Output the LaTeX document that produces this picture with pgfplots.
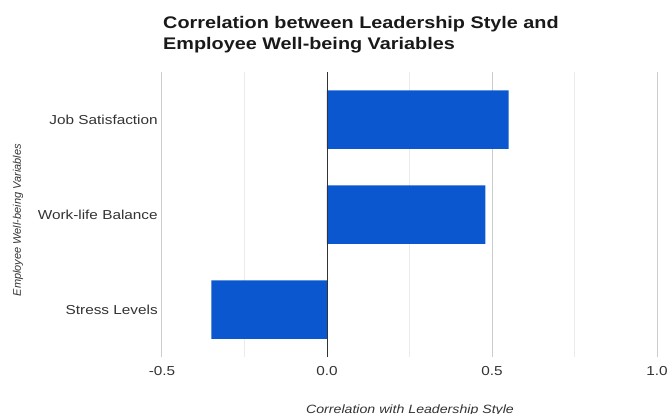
\documentclass[border=0pt]{standalone}
\usepackage{fontspec}
\setmainfont{Liberation Sans}[FakeStretch=1.18]
\newfontfamily\plainsans{Liberation Sans}
\usepackage{pgfplots}
\pgfplotsset{compat=1.18}

\definecolor{barblue}{HTML}{0B57D0}
\definecolor{ticktext}{HTML}{333333}
\definecolor{majorgrid}{HTML}{CCCCCC}
\definecolor{minorgrid}{HTML}{EBEBEB}
\definecolor{zeroline}{HTML}{333333}

\begin{document}
\begin{tikzpicture}
\useasboundingbox (-162bp,-57bp) rectangle (505bp,357bp);
\begin{axis}[
  at={(0,0)}, anchor=south west,
  scale only axis, width=495bp, height=285bp,
  xbar, bar width=58.5bp,
  xmin=-0.5, xmax=1.0, ymin=-0.5, ymax=2.5,
  xtick={-0.5,0,0.5,1.0},
  minor xtick={-0.25,0.25,0.75},
  xmajorgrids, xminorgrids,
  major grid style={draw=majorgrid, line width=1pt},
  minor grid style={draw=minorgrid, line width=1pt},
  ytick={0,1,2},
  yticklabels={Stress Levels, Work-life Balance, Job Satisfaction},
  axis line style={draw=none},
  tick style={draw=none},
  /pgf/number format/fixed,
  /pgf/number format/fixed zerofill,
  /pgf/number format/precision=1,
  /pgf/number format/assume math mode=true,
  xticklabel style={font=\fontsize{13bp}{15bp}\selectfont, text=ticktext, yshift=-6bp},
  yticklabel style={font=\fontsize{13bp}{15bp}\selectfont, text=ticktext, xshift=3.5bp},
  xlabel={Correlation with Leadership Style},
  xlabel style={at={(axis description cs:0.501,0)}, anchor=base, yshift=-56bp,
    font=\fontsize{12bp}{14bp}\selectfont\itshape, text=ticktext},
  ylabel={Employee Well-being Variables},
  ylabel style={at={(axis description cs:-0.291,0.48)}, anchor=center, rotate=0,
    font=\plainsans\fontsize{11bp}{13bp}\selectfont\itshape, text=ticktext},
]
\addplot[fill=barblue, draw=none] coordinates {(-0.35,0) (0.48,1) (0.55,2)};
% zero reference line drawn over the bars
\draw[draw=zeroline, line width=1pt] (axis cs:0,-0.5) -- (axis cs:0,2.5);
\end{axis}
\node[anchor=base west, inner sep=0pt, font=\fontsize{16.8bp}{20bp}\selectfont\bfseries, text=black!90]
  at (1bp,328bp) {Correlation between Leadership Style and};
\node[anchor=base west, inner sep=0pt, font=\fontsize{16.8bp}{20bp}\selectfont\bfseries, text=black!90]
  at (1bp,307.7bp) {Employee Well-being Variables};
\end{tikzpicture}
\end{document}
